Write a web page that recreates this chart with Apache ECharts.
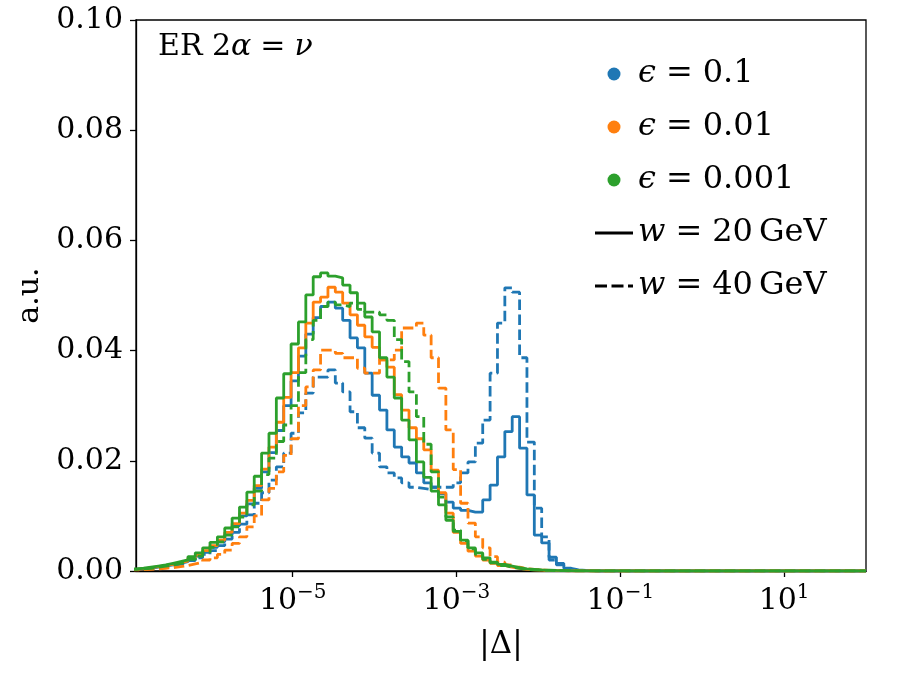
<!DOCTYPE html>
<html>
<head>
<meta charset="utf-8">
<script src="https://cdn.jsdelivr.net/npm/echarts@6/dist/echarts.min.js"></script>
<style>html,body{margin:0;padding:0;background:#fff}#c{width:900px;height:675px}</style>
</head>
<body>
<div id="c"></div>
<script>
// Histogram binning: 100 log-spaced bins between 10^-7 and 10^2
const BIN_LOG_MIN = -7;
const BIN_LOG_MAX = 2;
const N_BINS = 100;

// Axis range and tick labels
const X_MIN = 1.22e-7;
const X_MAX = 100;
const X_TICKS = [1e-5, 1e-3, 1e-1, 1e1];
const Y_MIN = 0, Y_MAX = 0.10, Y_STEP = 0.02;

// Bin contents (a.u.), bins 0..99
const eps01_w20 = [
 0.0003,0.0004,0.0005,0.0007,0.0009,0.0011,0.0014,0.0017,0.0021,0.0027,
 0.0034,0.0043,0.0053,0.0066,0.0082,0.0100,0.0122,0.0150,0.0180,0.0215,
 0.0255,0.0300,0.0345,0.0390,0.0430,0.0460,0.0480,0.0488,0.0477,0.0455,
 0.0423,0.0405,0.0359,0.0319,0.0292,0.0256,0.0225,0.0207,0.0196,0.0178,
 0.0160,0.0152,0.0140,0.0125,0.0114,0.0110,0.0107,0.0107,0.0129,0.0156,
 0.0207,0.0253,0.0280,0.0223,0.0138,0.0065,0.0051,0.0025,0.0014,0.0005,
 0.0002,0.0001,0.00005,0,0,0,0,0,0,0,
 0,0,0,0,0,0,0,0,0,0,
 0,0,0,0,0,0,0,0,0,0,
 0,0,0,0,0,0,0,0,0,0];
const eps01_w40 = [
 0.0003,0.0004,0.0005,0.0006,0.0008,0.0010,0.0012,0.0015,0.0019,0.0024,
 0.0030,0.0037,0.0046,0.0058,0.0070,0.0085,0.0102,0.0123,0.0142,0.0165,
 0.0189,0.0214,0.0250,0.0287,0.0323,0.0352,0.0352,0.0365,0.0341,0.0325,
 0.0289,0.0260,0.0241,0.0214,0.0189,0.0178,0.0169,0.0160,0.0152,0.0150,
 0.0148,0.0152,0.0152,0.0152,0.0160,0.0178,0.0198,0.0232,0.0274,0.0359,
 0.0450,0.0514,0.0506,0.0387,0.0234,0.0114,0.0062,0.0020,0.0011,0.0003,
 0.0001,0.00005,0,0,0,0,0,0,0,0,
 0,0,0,0,0,0,0,0,0,0,
 0,0,0,0,0,0,0,0,0,0,
 0,0,0,0,0,0,0,0,0,0];
const eps001_w20 = [
 0.0003,0.0004,0.0006,0.0008,0.0010,0.0012,0.0015,0.0018,0.0023,0.0029,
 0.0037,0.0046,0.0056,0.0070,0.0086,0.0105,0.0128,0.0155,0.0185,0.0225,
 0.0270,0.0315,0.0360,0.0405,0.0450,0.0488,0.0497,0.0515,0.0506,0.0486,
 0.0465,0.0446,0.0425,0.0406,0.0383,0.0370,0.0320,0.0292,0.0260,0.0240,
 0.0220,0.0183,0.0142,0.0105,0.0070,0.0050,0.0036,0.0027,0.0020,0.0014,
 0.0010,0.0007,0.0005,0.0003,0.0002,0.00015,0.0001,0.00007,0.00005,0.00003,
 0.00002,0.00001,0.00001,0,0,0,0,0,0,0,
 0,0,0,0,0,0,0,0,0,0,
 0,0,0,0,0,0,0,0,0,0,
 0,0,0,0,0,0,0,0,0,0];
const eps001_w40 = [
 0.0002,0.00025,0.0003,0.0004,0.0005,0.0006,0.0008,0.0010,0.0013,0.0016,
 0.0020,0.0024,0.0030,0.0038,0.0050,0.0062,0.0080,0.0100,0.0129,0.0150,
 0.0180,0.0210,0.0240,0.0300,0.0334,0.0365,0.0401,0.0401,0.0395,0.0387,
 0.0387,0.0368,0.0359,0.0359,0.0383,0.0383,0.0401,0.0441,0.0441,0.0450,
 0.0428,0.0387,0.0332,0.0256,0.0184,0.0123,0.0087,0.0062,0.0042,0.0026,
 0.0016,0.0011,0.0007,0.0004,0.0003,0.0002,0.0001,0.00007,0.00005,0.00003,
 0.00002,0.00001,0,0,0,0,0,0,0,0,
 0,0,0,0,0,0,0,0,0,0,
 0,0,0,0,0,0,0,0,0,0,
 0,0,0,0,0,0,0,0,0,0];
const eps0001_w20 = [
 0.0004,0.0005,0.0007,0.0009,0.0011,0.0014,0.0017,0.0020,0.0026,0.0033,
 0.0042,0.0052,0.0062,0.0078,0.0096,0.0116,0.0143,0.0172,0.0214,0.0250,
 0.0314,0.0358,0.0412,0.0452,0.0501,0.0534,0.0541,0.0535,0.0532,0.0519,
 0.0505,0.0486,0.0461,0.0434,0.0387,0.0352,0.0314,0.0274,0.0238,0.0198,
 0.0170,0.0145,0.0120,0.0092,0.0072,0.0056,0.0042,0.0033,0.0024,0.0016,
 0.0012,0.0009,0.0006,0.0004,0.0003,0.0002,0.00015,0.0001,0.00008,0.00005,
 0.00004,0.00003,0.00002,0.00002,0.00001,0.00001,0.00001,0,0,0,
 0,0,0,0,0,0,0,0,0,0,
 0,0,0,0,0,0,0,0,0,0,
 0,0,0,0,0,0,0,0,0,0];
const eps0001_w40 = [
 0.0003,0.0004,0.0005,0.0007,0.0009,0.0011,0.0014,0.0017,0.0021,0.0027,
 0.0034,0.0043,0.0053,0.0065,0.0080,0.0098,0.0120,0.0145,0.0175,0.0205,
 0.0235,0.0265,0.0300,0.0360,0.0420,0.0455,0.0480,0.0488,0.0483,0.0480,
 0.0486,0.0475,0.0470,0.0470,0.0465,0.0455,0.0420,0.0380,0.0325,0.0280,
 0.0230,0.0180,0.0134,0.0098,0.0074,0.0055,0.0040,0.0030,0.0021,0.0015,
 0.0010,0.0007,0.0005,0.0003,0.0002,0.00015,0.0001,0.00007,0.00005,0.00003,
 0.00002,0.00001,0,0,0,0,0,0,0,0,
 0,0,0,0,0,0,0,0,0,0,
 0,0,0,0,0,0,0,0,0,0,
 0,0,0,0,0,0,0,0,0,0];

const COLORS = {blue: '#1f77b4', orange: '#ff7f0e', green: '#2ca02c'};
const FONT = 'DejaVu Serif';
const LW = 2.8;
const DASH = [10.5, 4.5];

const edges = [];
for (let k = 0; k <= N_BINS; k++) edges.push(Math.pow(10, BIN_LOG_MIN + (BIN_LOG_MAX - BIN_LOG_MIN) * k / N_BINS));

function stepData(vals) {
  const d = vals.map((v, k) => [edges[k], v]);
  d.push([edges[N_BINS], 0]);
  return d;
}
function hist(name, vals, color, dashed) {
  return {
    name: name, type: 'line', step: 'end', data: stepData(vals),
    showSymbol: false, symbol: 'none', silent: true, animation: false,
    lineStyle: {color: color, width: LW, type: dashed ? DASH : 'solid'},
    itemStyle: {color: color}, z: 2
  };
}

const LEG = {
  e1: '{i|ϵ}{s|}{n|=}{s|}{n|0.1}',
  e2: '{i|ϵ}{s|}{n|=}{s|}{n|0.01}',
  e3: '{i|ϵ}{s|}{n|=}{s|}{n|0.001}',
  w20: '{i|w}{s|}{n|=}{s|}{n|20}{t|}{n|GeV}',
  w40: '{i|w}{s|}{n|=}{s|}{n|40}{t|}{n|GeV}'
};
const ICON_SOLID = 'path://M0,0H38V2.8H0Z';
const ICON_DASH = 'path://M0,0H12V2.8H0Z M16.5,0H28.5V2.8H16.5Z M33,0H38V2.8H33Z';

const chart = echarts.init(document.getElementById('c'), null, {renderer: 'canvas'});
const option = {
  animation: false,
  backgroundColor: '#fff',
  grid: {left: 136, right: 34, top: 20, bottom: 104, show: true, borderColor: '#000', borderWidth: 1.3, backgroundColor: 'transparent'},
  xAxis: {
    type: 'log', min: X_MIN, max: X_MAX,
    name: '|Δ|', nameLocation: 'middle', nameGap: 58,
    nameTextStyle: {fontFamily: FONT, fontSize: 31, color: '#000'},
    axisLine: {show: true, lineStyle: {color: '#000', width: 1.3}},
    axisTick: {show: true, length: 6, lineStyle: {color: '#000', width: 1.3}, customValues: X_TICKS},
    minorTick: {show: false},
    splitLine: {show: false},
    axisLabel: {
      customValues: X_TICKS, margin: 12,
      formatter: function (v) {
        const e = Math.round(Math.log10(v));
        return '{b|10}{s|' + (e < 0 ? '−' + (-e) : String(e)) + '}';
      },
      rich: {
        b: {fontFamily: FONT, fontSize: 30, color: '#000', lineHeight: 36},
        s: {fontFamily: FONT, fontSize: 20, color: '#000', verticalAlign: 'top'}
      }
    }
  },
  yAxis: {
    type: 'value', min: Y_MIN, max: Y_MAX, interval: Y_STEP,
    name: 'a.u.', nameLocation: 'middle', nameGap: 85, nameRotate: 90,
    nameTextStyle: {fontFamily: FONT, fontSize: 30, color: '#000'},
    axisLine: {show: true, lineStyle: {color: '#000', width: 1.3}},
    axisTick: {show: true, length: 6, lineStyle: {color: '#000', width: 1.3}},
    splitLine: {show: false},
    axisLabel: {margin: 13, fontFamily: FONT, fontSize: 30, color: '#000', formatter: v => v.toFixed(2)}
  },
  legend: {
    orient: 'vertical', left: 590, top: 51, itemGap: 17, itemWidth: 38, itemHeight: 13,
    selectedMode: false,
    data: [
      {name: 'e1', icon: 'circle', itemStyle: {color: COLORS.blue, opacity: 1}},
      {name: 'e2', icon: 'circle', itemStyle: {color: COLORS.orange, opacity: 1}},
      {name: 'e3', icon: 'circle', itemStyle: {color: COLORS.green, opacity: 1}},
      {name: 'w20', icon: ICON_SOLID, itemStyle: {color: '#000', opacity: 1}},
      {name: 'w40', icon: ICON_DASH, itemStyle: {color: '#000', opacity: 1}}
    ],
    formatter: n => LEG[n],
    textStyle: {
      rich: {
        i: {fontFamily: FONT, fontStyle: 'italic', fontSize: 32, color: '#000', lineHeight: 36},
        n: {fontFamily: FONT, fontSize: 32, color: '#000', lineHeight: 36},
        s: {width: 10, lineHeight: 36},
        t: {width: 6, lineHeight: 36}
      },
      lineHeight: 36,
      height: 36
    }
  },
  graphic: [{
    type: 'text', left: 158, top: 32, silent: true,
    style: {
      text: '{n|ER 2}{i|α}{s|}{n|=}{s|}{i|ν}',
      rich: {
        n: {fontFamily: FONT, fontSize: 30, fill: '#000'},
        i: {fontFamily: FONT, fontSize: 30, fontStyle: 'italic', fill: '#000'},
        s: {width: 9}
      }
    }
  }],
  series: [
    hist('ε=0.1, w=20', eps01_w20, COLORS.blue, false),
    hist('ε=0.1, w=40', eps01_w40, COLORS.blue, true),
    hist('ε=0.01, w=20', eps001_w20, COLORS.orange, false),
    hist('ε=0.01, w=40', eps001_w40, COLORS.orange, true),
    hist('ε=0.001, w=20', eps0001_w20, COLORS.green, false),
    hist('ε=0.001, w=40', eps0001_w40, COLORS.green, true),
    {name: 'e1', type: 'scatter', data: [], itemStyle: {color: COLORS.blue, opacity: 1}},
    {name: 'e2', type: 'scatter', data: [], itemStyle: {color: COLORS.orange, opacity: 1}},
    {name: 'e3', type: 'scatter', data: [], itemStyle: {color: COLORS.green, opacity: 1}},
    {name: 'w20', type: 'line', data: [], symbol: 'none', itemStyle: {color: '#000'}, lineStyle: {color: '#000', width: LW, type: 'solid'}},
    {name: 'w40', type: 'line', data: [], symbol: 'none', itemStyle: {color: '#000'}, lineStyle: {color: '#000', width: LW, type: DASH}}
  ]
};
chart.setOption(option);
</script>
</body>
</html>
